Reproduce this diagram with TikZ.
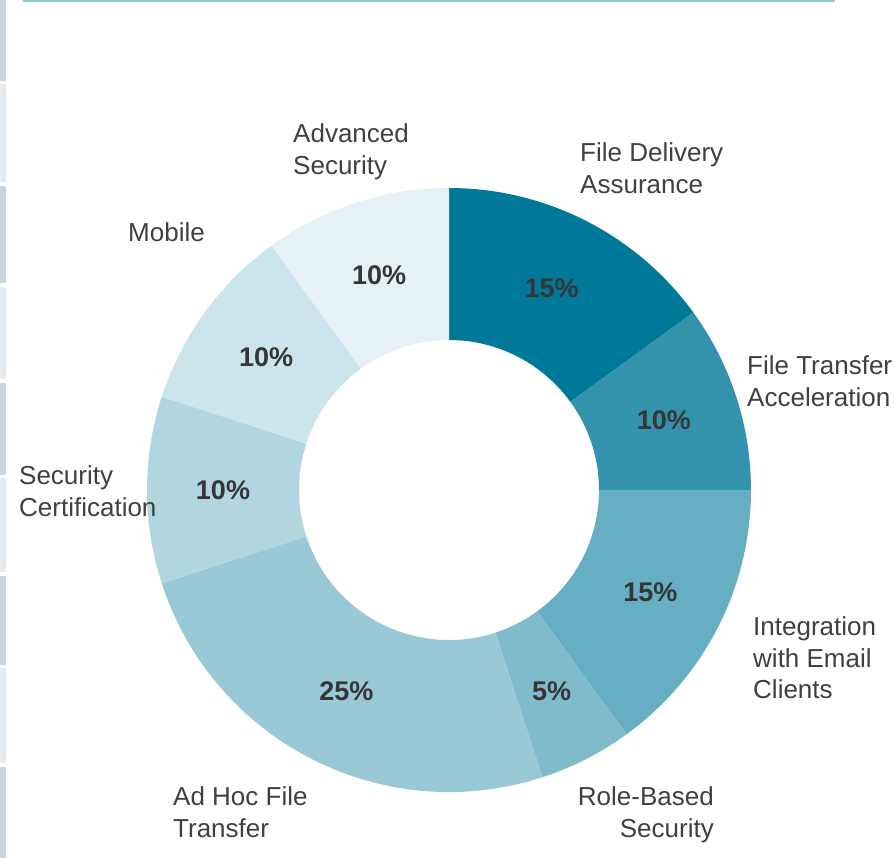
\documentclass[tikz,border=0pt]{standalone}
\usepackage{fontspec}
\setmainfont{Liberation Sans}
\definecolor{base}{HTML}{007899}
\definecolor{txt}{HTML}{404040}
\definecolor{pct}{HTML}{363636}
\definecolor{stripedark}{HTML}{CAD6DD}
\definecolor{stripelight}{HTML}{E5EBEE}
\definecolor{topline}{HTML}{8FCAD6}
\tikzset{
  cat/.style={inner sep=0pt, text=txt, font=\fontsize{26}{31.5}\selectfont, align=left, anchor=west},
  catr/.style={inner sep=0pt, text=txt, font=\fontsize{26}{31.5}\selectfont, align=right, anchor=east},
  pctlabel/.style={inner sep=0pt, text=pct, font=\fontsize{27}{30}\selectfont\bfseries},
}
\newcommand{\ringseg}[3]{%
  \fill[#3] (#1:302pt) arc[start angle=#1, end angle=#2, radius=302pt]
    -- (#2:150pt) arc[start angle=#2, end angle=#1, radius=150pt] -- cycle;}
\begin{document}
\begin{tikzpicture}[x=1pt,y=1pt]
\useasboundingbox (0,0) rectangle (895,858);
\fill[white] (0,0) rectangle (895,858);
% left stripes
\fill[stripedark]  (0,858) rectangle (5.5,777);
\fill[stripelight] (0,774) rectangle (5.5,676);
\fill[stripedark]  (0,672) rectangle (5.5,575);
\fill[stripelight] (0,571) rectangle (5.5,479);
\fill[stripedark]  (0,475) rectangle (5.5,383);
\fill[stripelight] (0,380) rectangle (5.5,286);
\fill[stripedark]  (0,282) rectangle (5.5,193);
\fill[stripelight] (0,190) rectangle (5.5,95);
\fill[stripedark]  (0,91) rectangle (5.5,0);
% top line
\coordinate (tl1) at (23,857.2);
\coordinate (tl2) at (835,857.2);
\draw[topline, line width=1.6pt] (tl1) -- (tl2);
% donut
\begin{scope}[shift={(449,368)}]
  \ringseg{90}{36}{base}
  \ringseg{36}{0}{base!80!white}
  \ringseg{0}{-54}{base!60!white}
  \ringseg{-54}{-72}{base!50!white}
  \ringseg{-72}{-162}{base!40!white}
  \ringseg{-162}{-198}{base!30!white}
  \ringseg{-198}{-234}{base!20!white}
  \ringseg{-234}{-270}{base!10!white}
  \node[pctlabel] (p1) at (63:226pt) {15\%};
  \node[pctlabel] (p2) at (18:226pt) {10\%};
  \node[pctlabel] (p3) at (-27:226pt) {15\%};
  \node[pctlabel] (p4) at (-63:226pt) {5\%};
  \node[pctlabel] (p5) at (-117:226pt) {25\%};
  \node[pctlabel] (p6) at (-180:226pt) {10\%};
  \node[pctlabel] (p7) at (144:226pt) {10\%};
  \node[pctlabel] (p8) at (108:226pt) {10\%};
\end{scope}
% category labels
\node[cat] (advsec) at (293,706) {Advanced\\Security};
\node[cat] (fda) at (580,690) {File Delivery\\Assurance};
\node[cat] (mobile) at (128,626) {Mobile};
\node[cat] (fta) at (747,477) {File Transfer\\Acceleration};
\node[cat] (seccert) at (19,367) {Security\\Certification};
\node[cat] (integ) at (753,200) {Integration\\with Email\\Clients};
\node[cat] (adhoc) at (173,46) {Ad Hoc File\\Transfer};
\node[catr] (role) at (714,43) {Role-Based\\Security};
\end{tikzpicture}
\end{document}
